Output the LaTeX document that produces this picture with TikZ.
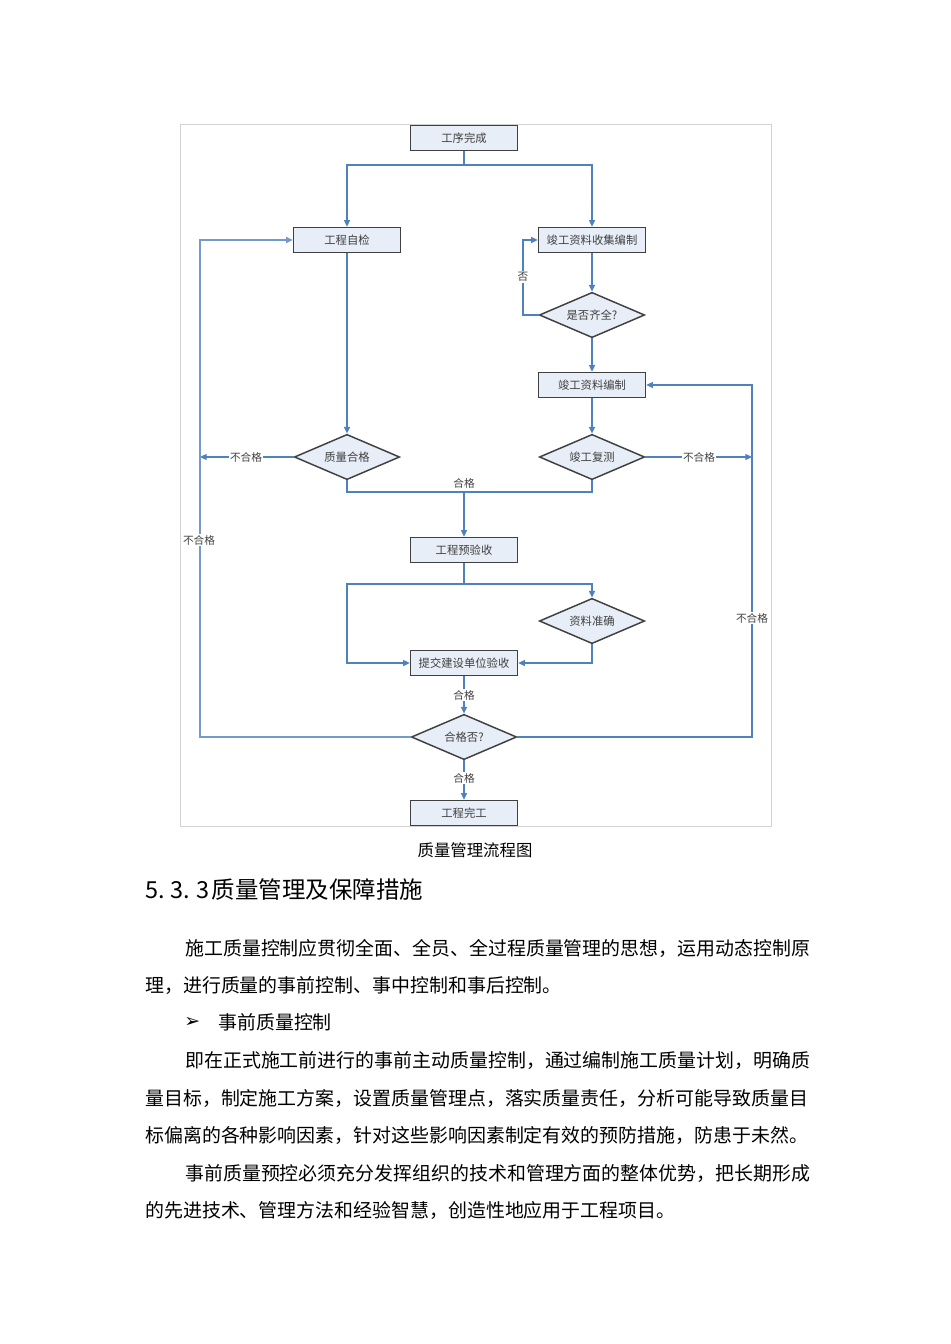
\documentclass[tikz,border=0pt]{standalone}
\usepackage{fontspec}
\setmainfont{Noto Sans CJK SC}
\newfontfamily\dejavu{DejaVu Sans}
\usetikzlibrary{shapes.geometric,arrows.meta}
\definecolor{flow}{RGB}{79,129,189}
\definecolor{boxfill}{RGB}{232,238,247}
\definecolor{boxline}{RGB}{64,64,64}
\definecolor{framec}{RGB}{210,210,210}
\begin{document}
\begin{tikzpicture}[x=0.75pt,y=-0.75pt,
  box/.style={draw=boxline,line width=1.1pt,fill=boxfill,minimum width=80.25pt,minimum height=18.75pt,inner sep=0pt,font=\fontsize{8.5pt}{10pt}\selectfont,text=black!75},
  dia/.style={diamond,aspect=2.3,draw=boxline,line width=1.1pt,fill=boxfill,minimum width=79pt,minimum height=34pt,inner sep=0pt,font=\fontsize{8.5pt}{10pt}\selectfont,text=black!75},
  link/.style={draw=flow,line width=0.9pt},
  arr/.style={link,-{Triangle[length=5pt,width=4.5pt]}},
  lbl/.style={fill=white,inner sep=1pt,font=\fontsize{8pt}{9pt}\selectfont,text=black!75},
  body/.style={anchor=west,inner sep=0pt,font=\fontsize{14.2pt}{16pt}\selectfont}]
\useasboundingbox[fill=white] (0,0) rectangle (950,1344);
\draw[framec,line width=0.6pt] (180,124) rectangle (771,826);
% nodes
\node[box] (start) at (464,138) {工序完成};
\node[box] (self) at (347,240) {工程自检};
\node[box] (collect) at (592,240) {竣工资料收集编制};
\node[dia] (complete) at (592,315) {是否齐全?};
\node[box] (compile) at (592,385) {竣工资料编制};
\node[dia] (qok) at (347,457) {质量合格};
\node[dia] (retest) at (592,457) {竣工复测};
\node[box] (pre) at (464,550) {工程预验收};
\node[dia] (acc) at (592,621) {资料准确};
\node[box] (submit) at (464,663) {提交建设单位验收};
\node[dia] (pass) at (464,737) {合格否?};
\node[box] (done) at (464,813) {工程完工};
% coordinates
\coordinate (j1) at (464,165);
\coordinate (c1) at (523,315);
\coordinate (l1) at (200,457);
\coordinate (r1) at (752,457);
\coordinate (m1) at (464,492);
\coordinate (m2) at (464,584);
\coordinate (m3) at (347,620);
\coordinate (l2) at (200,600);
\coordinate (r2) at (752,600);
% connectors
\draw[link] (start) -- (j1);
\draw[arr] (j1) -| (self.north);
\draw[arr] (j1) -| (collect.north);
\draw[arr] (self) -- (qok);
\draw[arr] (collect) -- (complete);
\draw[arr] (complete.west) -- (c1) |- (collect.west);
\node[lbl] (no1) at (523,277) {否};
\draw[arr] (complete) -- (compile);
\draw[arr] (compile) -- (retest);
\draw[arr] (qok.west) -- (l1);
\node[lbl] (f1) at (246,457) {不合格};
\draw[arr] (retest.east) -- (r1);
\node[lbl] (f2) at (699,457) {不合格};
\draw[link] (qok.south) -- (qok.south |- m1) -| (retest.south);
\draw[arr] (m1) -- (pre);
\node[lbl,fill=none] (p1) at (464,483) {合格};
\draw[link] (pre) -- (m2);
\draw[arr] (m2) -| (acc.north);
\draw[arr] (m2) -| (m3) |- (submit.west);
\draw[arr] (acc.south) |- (submit.east);
\draw[arr] (submit) -- (pass);
\node[lbl] (p2) at (464,695) {合格};
\draw[arr,line width=1.2pt,draw=flow!80] (pass.west) -| (l2) |- (self.west);
\node[lbl] (f3) at (199,540) {不合格};
\draw[arr] (pass.east) -| (r2) |- (compile.east);
\node[lbl] (f4) at (752,618) {不合格};
\draw[arr] (pass) -- (done);
\node[lbl] (p3) at (464,778) {合格};
% text
\node[inner sep=0pt,font=\fontsize{12.3pt}{14pt}\selectfont] (cap) at (475,850) {质量管理流程图};
\node[anchor=west,inner sep=0pt,font=\fontsize{17.6pt}{20pt}\selectfont] (head) at (145,890) {\makebox[48pt][s]{5.\hfill3.\hfill3}\hspace{2pt}质量管理及保障措施};
\node[body] (t1) at (185,948) {施工质量控制应贯彻全面、全员、全过程质量管理的思想，运用动态控制原};
\node[body] (t2) at (145,986) {理，进行质量的事前控制、事中控制和事后控制。};
\node[body] (t3b) at (184,1022) {\dejavu ➢};
\node[body] (t3) at (218,1022) {事前质量控制};
\node[body] (t4) at (185,1060) {即在正式施工前进行的事前主动质量控制，通过编制施工质量计划，明确质};
\node[body] (t5) at (145,1098) {量目标，制定施工方案，设置质量管理点，落实质量责任，分析可能导致质量目};
\node[body] (t6) at (145,1135) {标偏离的各种影响因素，针对这些影响因素制定有效的预防措施，防患于未然。};
\node[body] (t7) at (185,1173) {事前质量预控必须充分发挥组织的技术和管理方面的整体优势，把长期形成};
\node[body] (t8) at (145,1210) {的先进技术、管理方法和经验智慧，创造性地应用于工程项目。};
\end{tikzpicture}
\end{document}
